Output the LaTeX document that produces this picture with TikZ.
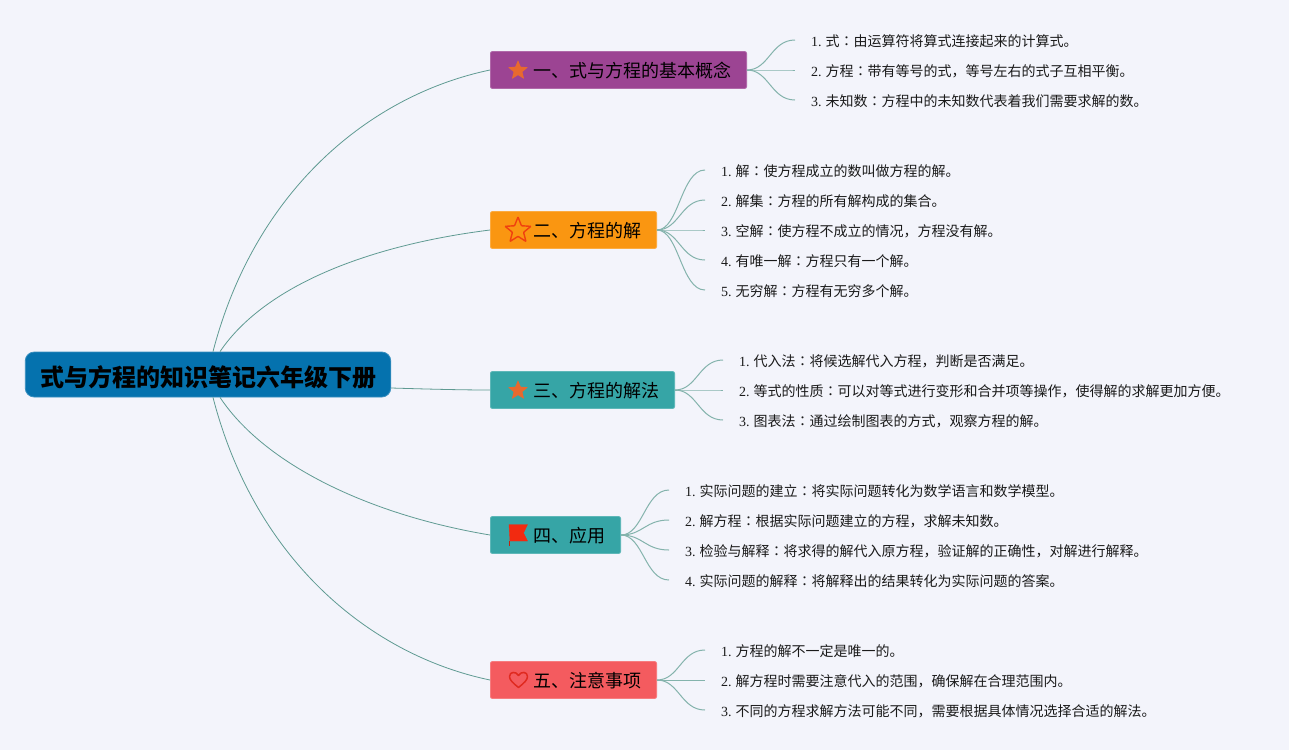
\documentclass[tikz,border=0pt]{standalone}
\usepackage{fontspec}
\usetikzlibrary{shapes.geometric}
\setmainfont{Liberation Serif}
\newfontfamily\cjk{Noto Sans CJK SC}
\newfontfamily\cjkcolon{Noto Sans CJK TC}
\newcommand{\zc}{{\cjkcolon ：}}
\newcommand{\lf}[2]{\hspace*{16pt}{\fontsize{14}{16}\selectfont #1.\hspace{4pt}\cjk #2}}
\newcommand{\bt}[1]{\hspace*{43pt}{\fontsize{18}{20}\selectfont\cjk #1}\hspace*{15.2pt}}
\definecolor{bgc}{HTML}{F3F4FB}
\definecolor{linkc}{HTML}{84B3AC}
\definecolor{mainc}{HTML}{5F9A92}
\definecolor{txt}{HTML}{1A1A1A}
\definecolor{cpurple}{HTML}{9C4493}
\definecolor{corange}{HTML}{FA9611}
\definecolor{cteal}{HTML}{36A5A6}
\definecolor{cred}{HTML}{F45B5F}
\definecolor{croot}{HTML}{0572AE}
\definecolor{istar}{HTML}{E8692E}
\definecolor{iline}{HTML}{F0400F}
\definecolor{iflag}{HTML}{F22A10}
\definecolor{iheart}{HTML}{E02A20}
\tikzset{
  x=1pt,y=-1pt,
  rootbox/.style={rounded corners=9pt,fill=croot,draw=croot!80!white,line width=.8pt,minimum width=365.5pt,minimum height=45pt,inner sep=0pt,text=black,text height=26pt,text depth=3pt},
  branch/.style={anchor=west,rounded corners=2pt,line width=.8pt,minimum height=37pt,inner xsep=0pt,inner ysep=0pt,text=black,text height=17.6pt,text depth=3pt},
  leaf/.style={anchor=west,inner ysep=0pt,inner xsep=0pt,text=txt,text height=14.6pt,text depth=2pt},
  link/.style={draw=linkc,line width=1pt},
  mainlink/.style={draw=mainc,line width=.8pt},
  icon/.style={star,star points=5,star point ratio=2.3,inner sep=0pt,rounded corners=.6pt},
}
\newcommand{\fan}[2]{\draw[link] (#1.east) .. controls +(22,0) and +(-24,0) .. (#2.west);}
\begin{document}
\begin{tikzpicture}
\useasboundingbox (0,0) rectangle (1289,750);
\fill[bgc] (0,0) rectangle (1289,750);

\node[rootbox] (root) at (208,374.5) {\fontsize{24}{26}\selectfont\cjk\bfseries 式与方程的知识笔记六年级下册};

\node[branch,fill=cpurple,draw=cpurple!80!white] (b1) at (490,70) {\bt{一、式与方程的基本概念}};
\node[branch,fill=corange,draw=corange!80!white] (b2) at (490,230) {\bt{二、方程的解}};
\node[branch,fill=cteal,draw=cteal!80!white] (b3) at (490,390) {\bt{三、方程的解法}};
\node[branch,fill=cteal,draw=cteal!80!white] (b4) at (490,535) {\bt{四、应用}};
\node[branch,fill=cred,draw=cred!80!white] (b5) at (490,680) {\bt{五、注意事项}};

\draw[mainlink] ([xshift=5pt]root.north) .. controls (255,190) and (370,95) .. (b1.west);
\draw[mainlink] ([xshift=12pt]root.north) .. controls (265,285) and (370,245) .. (b2.west);
\draw[mainlink] ([yshift=-13.5pt]root.east) .. controls (425,389) and (460,390) .. (b3.west);
\draw[mainlink] ([xshift=12pt]root.south) .. controls (265,465) and (370,515) .. (b4.west);
\draw[mainlink] ([xshift=5pt]root.south) .. controls (255,560) and (370,655) .. (b5.west);

\begin{scope}[every node/.append style={leaf}]
\node (a1) at (795,40) {\lf{1}{式\zc 由运算符将算式连接起来的计算式。}};
\node (a2) at (795,70) {\lf{2}{方程\zc 带有等号的式，等号左右的式子互相平衡。}};
\node (a3) at (795,100) {\lf{3}{未知数\zc 方程中的未知数代表着我们需要求解的数。}};
\node (c1) at (705,170) {\lf{1}{解\zc 使方程成立的数叫做方程的解。}};
\node (c2) at (705,200) {\lf{2}{解集\zc 方程的所有解构成的集合。}};
\node (c3) at (705,230) {\lf{3}{空解\zc 使方程不成立的情况，方程没有解。}};
\node (c4) at (705,260) {\lf{4}{有唯一解\zc 方程只有一个解。}};
\node (c5) at (705,290) {\lf{5}{无穷解\zc 方程有无穷多个解。}};
\node (d1) at (723,360) {\lf{1}{代入法\zc 将候选解代入方程，判断是否满足。}};
\node (d2) at (723,390) {\lf{2}{等式的性质\zc 可以对等式进行变形和合并项等操作，使得解的求解更加方便。}};
\node (d3) at (723,420) {\lf{3}{图表法\zc 通过绘制图表的方式，观察方程的解。}};
\node (e1) at (669,490) {\lf{1}{实际问题的建立\zc 将实际问题转化为数学语言和数学模型。}};
\node (e2) at (669,520) {\lf{2}{解方程\zc 根据实际问题建立的方程，求解未知数。}};
\node (e3) at (669,550) {\lf{3}{检验与解释\zc 将求得的解代入原方程，验证解的正确性，对解进行解释。}};
\node (e4) at (669,580) {\lf{4}{实际问题的解释\zc 将解释出的结果转化为实际问题的答案。}};
\node (f1) at (705,650) {\lf{1}{方程的解不一定是唯一的。}};
\node (f2) at (705,680) {\lf{2}{解方程时需要注意代入的范围，确保解在合理范围内。}};
\node (f3) at (705,710) {\lf{3}{不同的方程求解方法可能不同，需要根据具体情况选择合适的解法。}};
\end{scope}

\foreach \s/\t in {b1/a1,b1/a2,b1/a3,b2/c1,b2/c2,b2/c3,b2/c4,b2/c5,b3/d1,b3/d2,b3/d3,b4/e1,b4/e2,b4/e3,b4/e4,b5/f1,b5/f2,b5/f3}
  \fan{\s}{\t};

\node[icon,fill=istar,minimum size=21pt] (i1) at (518,70.5) {};
\node[icon,draw=iline,line width=1.4pt,minimum size=27pt] (i2) at (518,230.5) {};
\node[icon,fill=istar,minimum size=21pt] (i3) at (518,390.5) {};
\draw[fill=iflag,draw=iflag,line join=round] (509,524.5) -- (527.5,524.5) -- (523.5,533) -- (527.5,541) -- (510,541) -- cycle;
\draw[draw=iflag!80!black,line width=.8pt] (509.6,541) -- (509.6,545.5);
\draw[draw=iheart,line width=1.5pt,line join=round] (518.5,687.5) .. controls (513,683) and (509.5,680) .. (509.5,676.5) .. controls (509.5,671.5) and (516,671) .. (518.5,675.5) .. controls (521,671) and (527.5,671.5) .. (527.5,676.5) .. controls (527.5,680) and (524,683) .. (518.5,687.5) -- cycle;
\end{tikzpicture}
\end{document}
